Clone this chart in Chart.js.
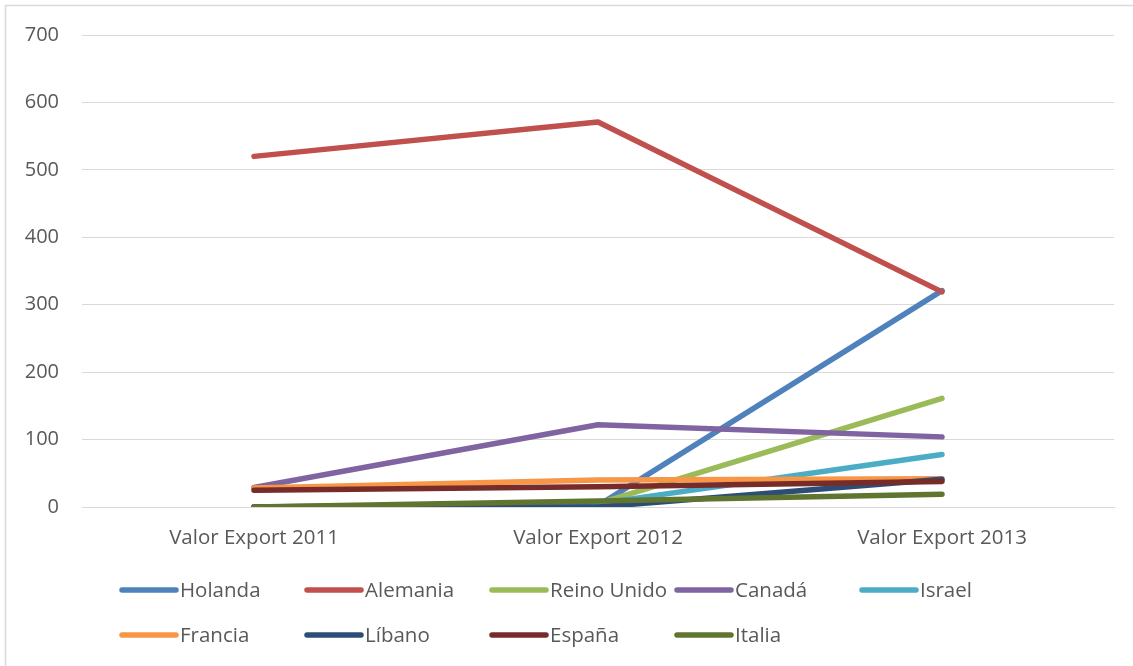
<!DOCTYPE html>
<html>
<head>
<meta charset="utf-8">
<script src="https://cdn.jsdelivr.net/npm/chart.js@4.4.1/dist/chart.umd.min.js"></script>
<style>
  html, body { margin: 0; padding: 0; background: #ffffff; }
  #wrap { position: relative; width: 1133px; height: 666px; }
</style>
</head>
<body>
<div id="wrap"><canvas id="chart" width="1133" height="666"></canvas></div>
<script>
// Export value by country and year
const categories = ['Valor Export 2011', 'Valor Export 2012', 'Valor Export 2013'];
const countries = ['Holanda', 'Alemania', 'Reino Unido', 'Canadá', 'Israel', 'Francia', 'Líbano', 'España', 'Italia'];
const holanda    = [0, 2, 321];
const alemania   = [520, 571, 319];
const reinoUnido = [0, 5, 161];
const canada     = [29, 122, 104];
const israel     = [0, 5, 78];
const francia    = [28, 40, 42];
const libano     = [0, 0, 41];
const espana     = [25, 30, 38];
const italia     = [0, 9, 19];
const yTicks = [0, 100, 200, 300, 400, 500, 600, 700];

const seriesValues = [holanda, alemania, reinoUnido, canada, israel, francia, libano, espana, italia];
const colors = ['#4F81BD', '#C0504D', '#9BBB59', '#8064A2', '#4BACC6', '#F79646', '#2C4D75', '#772C2A', '#5F7530'];

const FONT = '"Open Sans", "DejaVu Sans", sans-serif';
const TEXT = '#595959';
const GRID = '#d9d9d9';

const datasets = countries.map((name, i) => ({
  label: name,
  data: seriesValues[i],
  borderColor: colors[i],
  backgroundColor: colors[i],
  borderWidth: 5.5,
  borderCapStyle: 'round',
  borderJoinStyle: 'round',
  pointRadius: 0,
  pointHoverRadius: 0,
  tension: 0,
  fill: false,
  order: countries.length - i   // later series painted over earlier ones
}));

// Outer frame of the chart
const framePlugin = {
  id: 'frame',
  beforeDraw(chart) {
    const ctx = chart.ctx;
    ctx.save();
    ctx.fillStyle = '#ffffff';
    ctx.fillRect(0, 0, chart.width, chart.height);
    ctx.strokeStyle = GRID;
    ctx.lineWidth = 1.5;
    ctx.strokeRect(5.5, 5.5, chart.width + 10, chart.height + 10);
    ctx.restore();
  }
};

// Legend laid out in a fixed grid of columns below the axis
const gridLegendPlugin = {
  id: 'gridLegend',
  afterDraw(chart) {
    const ctx = chart.ctx;
    const perRow = 5, colW = 185, x0 = 120, y0 = 590, rowH = 45, sample = 56;
    ctx.save();
    ctx.font = '20.5px ' + FONT;
    ctx.textBaseline = 'middle';
    ctx.textAlign = 'left';
    chart.data.datasets.forEach((ds, i) => {
      const col = i % perRow, row = Math.floor(i / perRow);
      const x = x0 + col * colW, y = y0 + row * rowH;
      ctx.strokeStyle = ds.borderColor;
      ctx.lineWidth = 5.5;
      ctx.lineCap = 'round';
      ctx.beginPath();
      ctx.moveTo(x + 2, y);
      ctx.lineTo(x + sample, y);
      ctx.stroke();
      ctx.fillStyle = TEXT;
      ctx.fillText(ds.label, x + sample + 4, y + 1);
    });
    ctx.restore();
  }
};

new Chart(document.getElementById('chart'), {
  type: 'line',
  data: { labels: categories, datasets },
  options: {
    responsive: false,
    animation: false,
    devicePixelRatio: 1,
    layout: { padding: { left: 0, top: 31, right: 19, bottom: 0 } },
    plugins: {
      legend: { display: false },
      tooltip: { enabled: false }
    },
    scales: {
      x: {
        offset: true,
        grid: { display: false, drawTicks: false },
        border: { display: true, color: GRID, width: 1 },
        ticks: { color: TEXT, font: { family: FONT, size: 20.5 }, padding: 19, maxRotation: 0 },
        afterFit(scale) { scale.height = 159; }
      },
      y: {
        min: 0,
        max: 700,
        afterBuildTicks(scale) { scale.ticks = yTicks.map(v => ({ value: v })); },
        grid: { color: GRID, lineWidth: 1, drawTicks: false },
        border: { display: false },
        ticks: { color: TEXT, font: { family: FONT, size: 20 }, padding: 23 },
        afterFit(scale) { scale.width = 82; }
      }
    }
  },
  plugins: [framePlugin, gridLegendPlugin]
});
</script>
</body>
</html>
